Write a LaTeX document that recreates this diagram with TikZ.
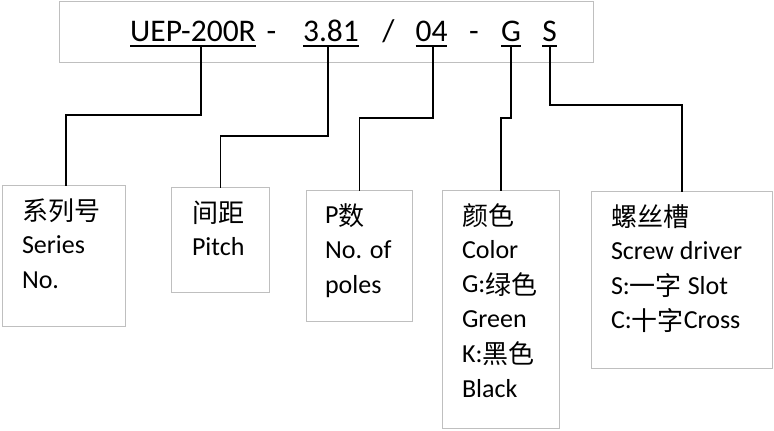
\documentclass[tikz,border=0pt]{standalone}
\usepackage{fontspec}
\setmainfont{Carlito}
\newfontfamily\cjkfont{Noto Sans CJK SC}
\newcommand\zh[1]{\raisebox{-1.5pt}{\cjkfont #1}}
\definecolor{boxgray}{HTML}{BFBFBF}
\begin{document}
\begin{tikzpicture}[x=1pt,y=-1pt,
  frame/.style={draw=boxgray, line width=1.6pt, inner sep=0pt, outer sep=0pt, rectangle},
  toptxt/.style={anchor=base, inner sep=0pt, outer sep=0pt, font=\fontsize{31.5}{36}\selectfont},
  bodytxt/.style={anchor=base west, inner sep=0pt, outer sep=0pt, font=\fontsize{26}{30}\selectfont},
  uline/.style={line width=1.5pt},
  conn/.style={line width=1.6pt}]
\useasboundingbox (0,0) rectangle (774,431);
% top frame
\node[frame, minimum width=534pt, minimum height=61pt] (top) at (326.5,32) {};
% top texts
\node[toptxt] (uep) at (193,41) {UEP-200R};
\node[toptxt] (d1) at (271.5,41) {-};
\node[toptxt] (pitch) at (331,41) {3.81};
\node[toptxt] (sl) at (388.5,41) {/};
\node[toptxt] (poles) at (431.5,41) {04};
\node[toptxt] (d2) at (474,41) {-};
\node[toptxt] (color) at (511,41) {G};
\node[toptxt] (screw) at (549.5,41) {S};
\foreach \n in {uep,pitch,poles,color,screw}
  \draw[uline] ([yshift=-5pt]\n.base west) -- ([yshift=-5pt]\n.base east);
% boxes
\node[frame, anchor=north west, minimum width=123pt, minimum height=141pt] (b1) at (2.5,185.5) {};
\node[frame, anchor=north west, minimum width=98pt, minimum height=105pt] (b2) at (171.5,187.5) {};
\node[frame, anchor=north west, minimum width=106pt, minimum height=131pt] (b3) at (306.5,190.5) {};
\node[frame, anchor=north west, minimum width=117pt, minimum height=238pt] (b4) at (442.5,190.5) {};
\node[frame, anchor=north west, minimum width=181pt, minimum height=177pt] (b5) at (591.5,191.5) {};
% box texts
\foreach \t [count=\i] in {{\zh{系列号}},Series,No.}
  \node[bodytxt] (b1l\i) at ([xshift=19.5pt,yshift={-33pt-34.8pt*(\i-1)}]b1.north west) {\t};
\foreach \t [count=\i] in {{\zh{间距}},Pitch}
  \node[bodytxt] (b2l\i) at ([xshift=20.5pt,yshift={-33pt-34.8pt*(\i-1)}]b2.north west) {\t};
\foreach \t [count=\i] in {{P\zh{数}},No. of,poles}
  \node[bodytxt] (b3l\i) at ([xshift=18.5pt,yshift={-33pt-34.8pt*(\i-1)}]b3.north west) {\t};
\foreach \t [count=\i] in {{\zh{颜色}},Color,{G:\zh{绿色}},Green,{K:\zh{黑色}},Black}
  \node[bodytxt] (b4l\i) at ([xshift=19.5pt,yshift={-33pt-34.7pt*(\i-1)}]b4.north west) {\t};
\foreach \t [count=\i] in {{\zh{螺丝槽}},Screw driver,{S:\zh{一字} Slot},{C:\zh{十字}Cross}}
  \node[bodytxt] (b5l\i) at ([xshift=19.5pt,yshift={-33pt-34.8pt*(\i-1)}]b5.north west) {\t};
% connectors
\coordinate (e1) at ([xshift=2pt]b1.north);
\draw[conn] ([xshift=8pt,yshift=-5pt]uep.base) |- (e1 |- 0,115) -- (e1);
\draw[conn] ([xshift=-3pt,yshift=-5pt]pitch.base) |- (b2.north |- 0,136) -- (b2.north);
\draw[conn] ([xshift=1.5pt,yshift=-5pt]poles.base) |- (b3.north |- 0,118) -- (b3.north);
\draw[conn] ([yshift=-5pt]color.base) |- (b4.north |- 0,118) -- (b4.north);
\draw[conn] ([xshift=0.5pt,yshift=-5pt]screw.base) |- (b5.north |- 0,105) -- (b5.north);
\end{tikzpicture}
\end{document}
